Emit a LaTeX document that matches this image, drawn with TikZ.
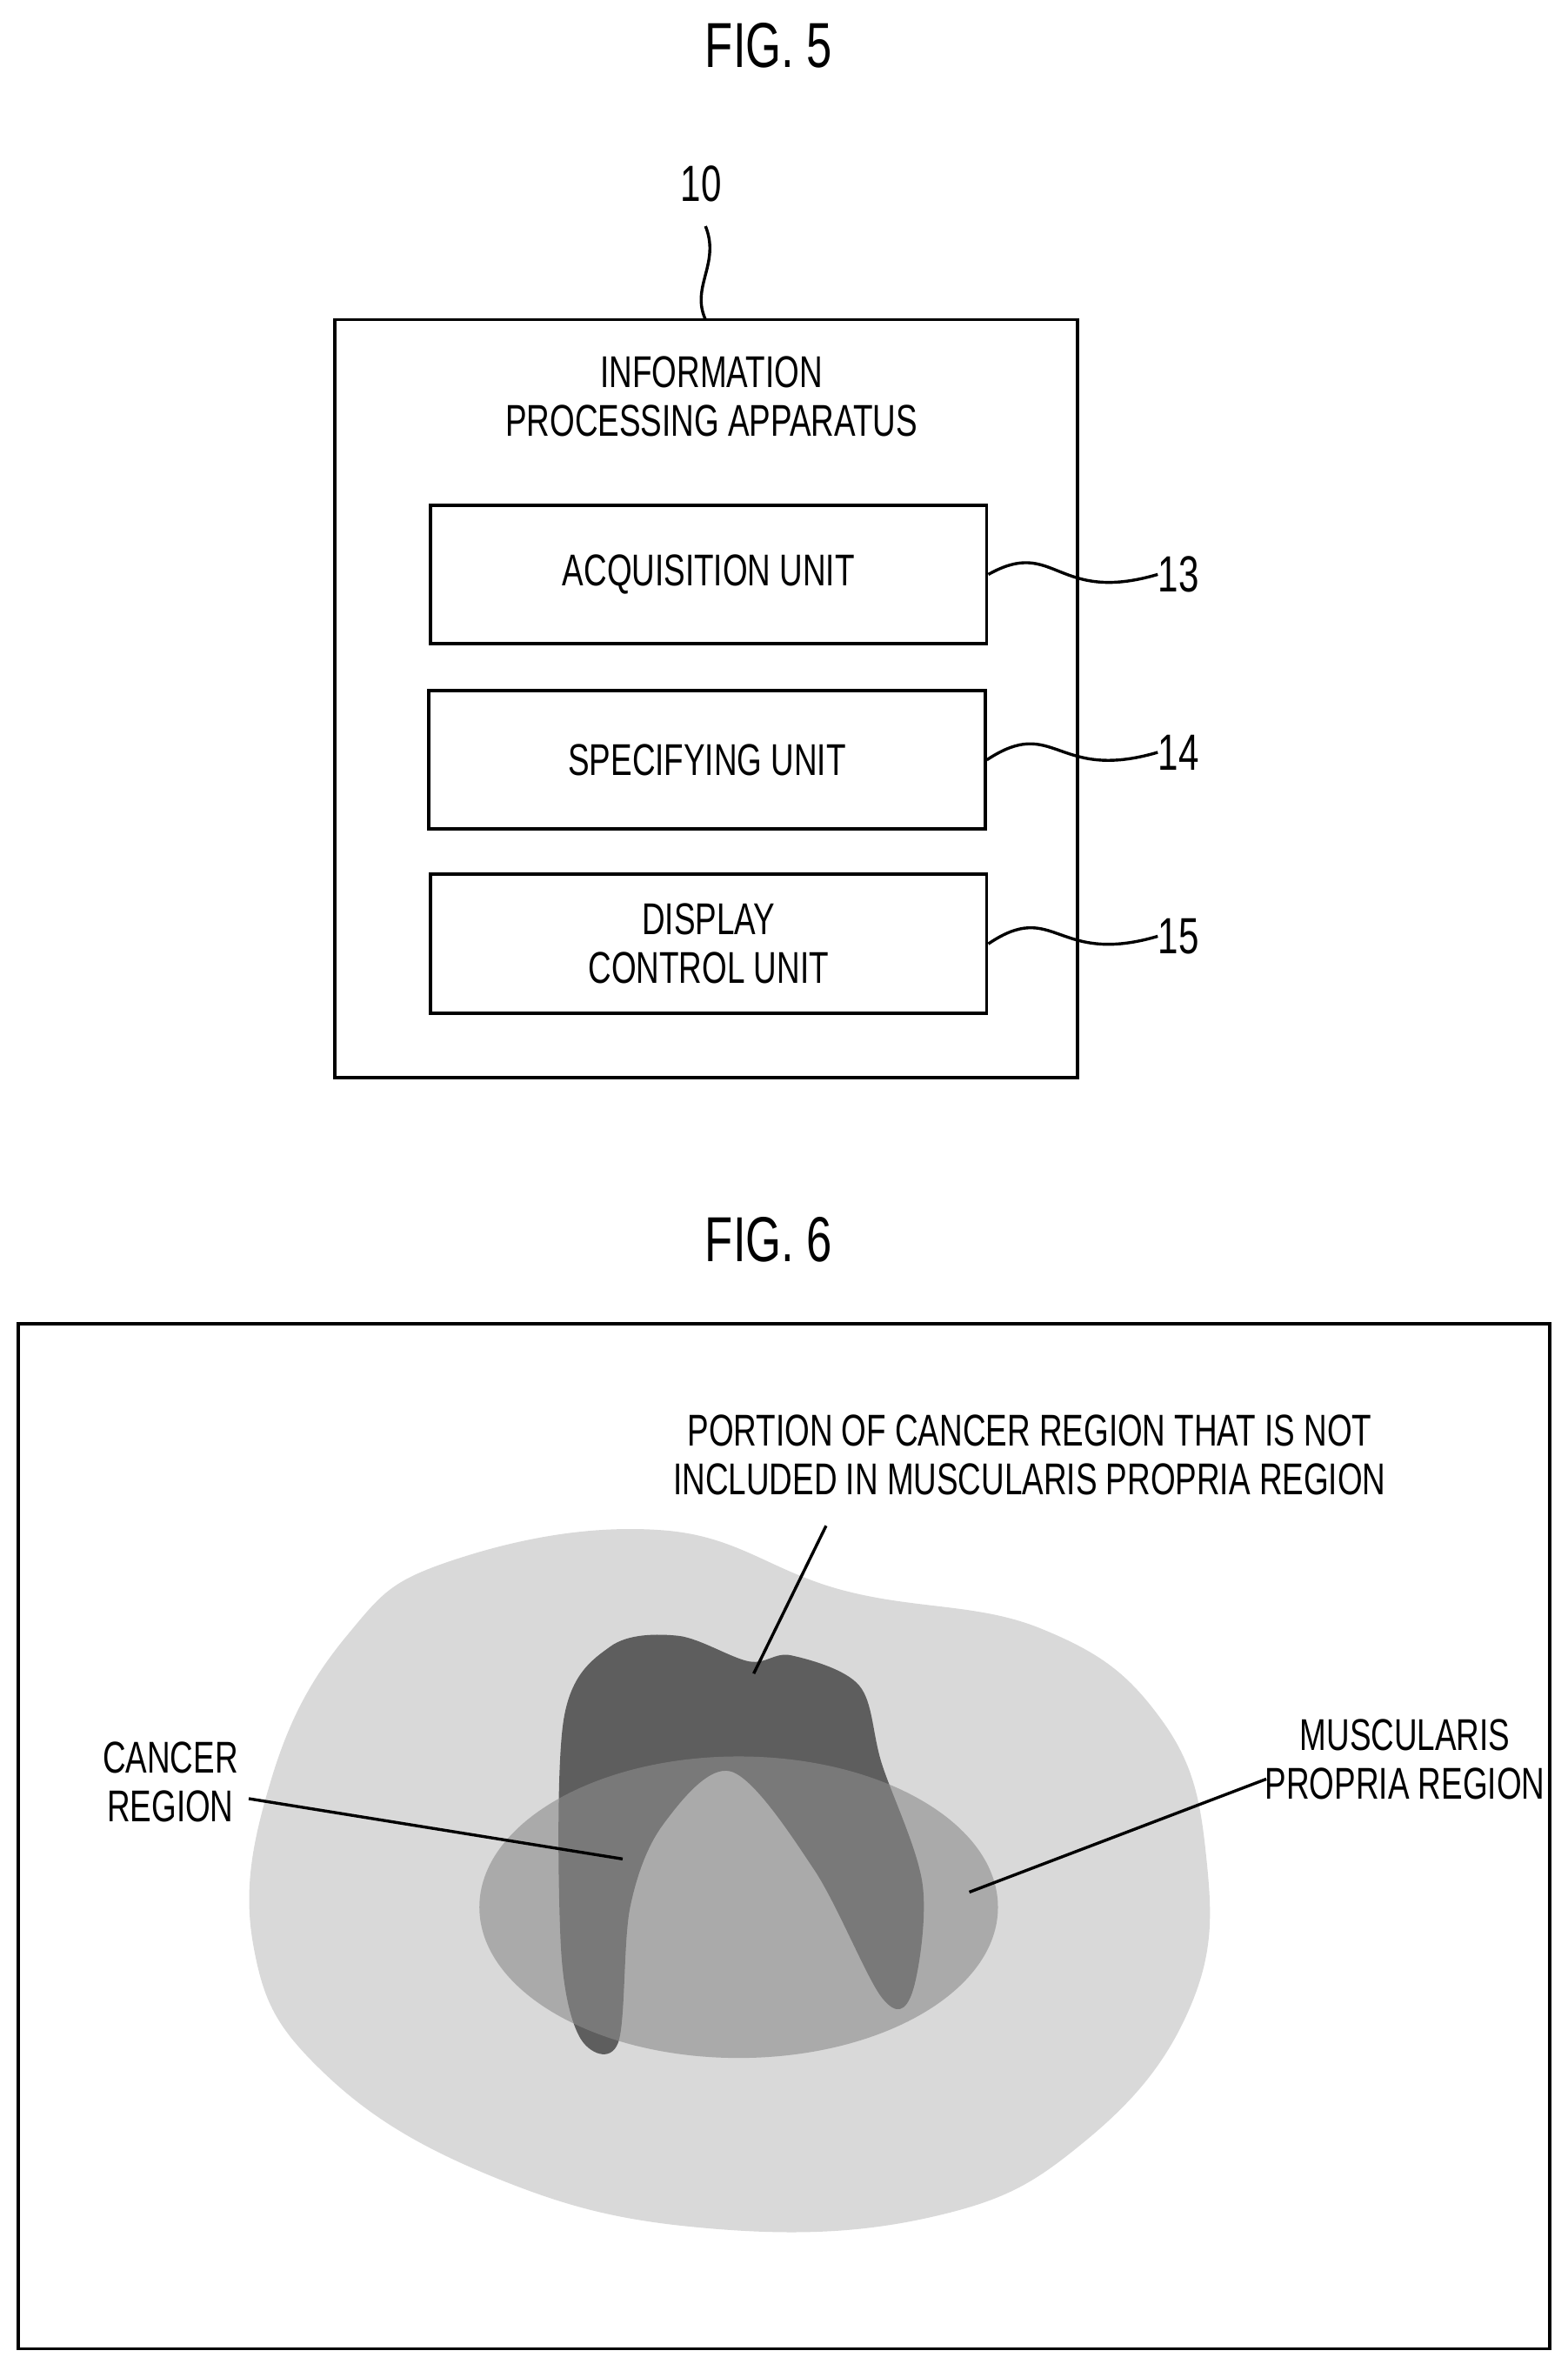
\documentclass[tikz,border=0pt]{standalone}
\usepackage{fontspec}
\setmainfont{Liberation Sans}[FakeStretch=0.72]
\begin{document}
\begin{tikzpicture}[x=0.025cm,y=-0.025cm,
  lbl/.style={font=\fontsize{21}{25}\selectfont,align=center,inner sep=0},
  ttl/.style={font=\fontsize{30}{34}\selectfont,inner sep=0},
  unit/.style={draw,line width=1.6pt,minimum width=369*0.025cm,minimum height=92*0.025cm,font=\fontsize{21}{25}\selectfont,align=center},
  ln/.style={line width=1.4pt}]
\useasboundingbox (0,0) rectangle (1040,1568);
% FIG 5
\node[ttl] (f5) at (510,30) {FIG. 5};
\node[lbl,font=\fontsize{24}{28}\selectfont] (n10) at (465,122) {10};
\draw[line width=1.6pt] (222,212) rectangle (715,715);
\coordinate (top) at (468,212);
\coordinate (t10) at (468,150);
\draw[ln] (top) .. controls (458,190) and (478,175) .. (t10);
\node[lbl] (hdr) at (472,263) {INFORMATION\\[-2pt]PROCESSING APPARATUS};
\node[unit] (u13) at (470,381) {ACQUISITION UNIT};
\node[unit] (u14) at (469,504) {SPECIFYING UNIT};
\node[unit] (u15) at (470,626) {DISPLAY\\[-2pt]CONTROL UNIT};
\foreach \u/\n/\y in {u13/13/381,u14/14/499,u15/15/621}{
  \node[lbl,font=\fontsize{24}{28}\selectfont,anchor=west] (l\n) at (768,\y) {\n};
  \draw[ln] (\u.east) .. controls (700,\y-25) and (700,\y+20) .. (l\n.west);
}
% FIG 6
\node[ttl] (f6) at (510,822) {FIG. 6};
\draw[line width=1.4pt] (12,878) rectangle (1028,1558);
\fill[gray!30!white] plot[smooth cycle,tension=0.7] coordinates{
 (300,1035) (440,1015) (560,1055) (690,1080) (770,1140) (800,1230) (790,1330)
 (720,1420) (620,1470) (470,1478) (330,1445) (215,1375) (168,1290) (180,1180) (230,1085)};
\fill[gray!37!black!63!white, fill=black!63] plot[smooth cycle,tension=0.55] coordinates{
 (374,1140) (405,1092) (450,1085) (497,1102) (525,1098) (570,1118) (585,1170)
 (612,1250) (605,1322) (585,1325) (540,1240) (485,1175) (440,1210) (418,1265)
 (410,1355) (385,1352) (372,1290)};
\fill[black!45,opacity=0.6] (490,1265) ellipse [x radius=172,y radius=100];
\node[lbl] (p) at (683,965) {PORTION OF CANCER REGION THAT IS NOT\\[-2pt]INCLUDED IN MUSCULARIS PROPRIA REGION};
\coordinate (pa) at (500,1110);
\draw[ln] (548,1012) -- (pa);
\node[lbl] (c) at (113,1182) {CANCER\\[-2pt]REGION};
\coordinate (ca) at (413,1233);
\draw[ln] (165,1193) -- (ca);
\node[lbl] (m) at (932,1167) {MUSCULARIS\\[-2pt]PROPRIA REGION};
\coordinate (ma) at (643,1255);
\draw[ln] (840,1180) -- (ma);
\end{tikzpicture}
\end{document}
